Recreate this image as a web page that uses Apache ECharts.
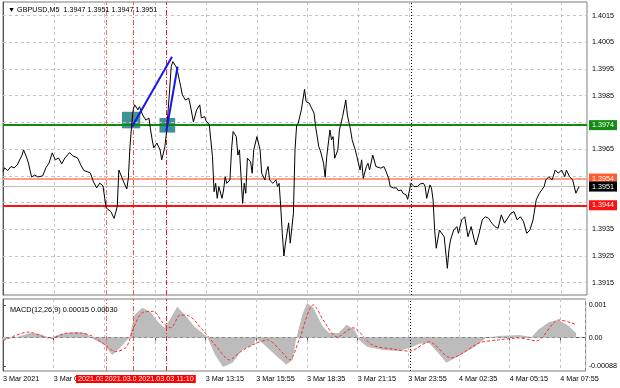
<!DOCTYPE html>
<html><head><meta charset="utf-8">
<script src="https://cdn.jsdelivr.net/npm/echarts@6/dist/echarts.min.js"></script>
<style>html,body{margin:0;padding:0;background:#fff}#c{width:620px;height:388px}</style>
</head><body><div id="c"></div>
<script>
// bar index = 5-minute bars since 3 Mar 2021 02:35
const symbolName = 'GBPUSD,M5';
const ohlc = ['1.3947', '1.3951', '1.3947', '1.3951'];
const macdName = 'MACD(12,26,9)';
const macdNow = ['0.00015', '0.00030'];

const closePoints = [
[0,1.39566],[1,1.39580],[3,1.39570],[5,1.39585],[7,1.39580],[9,1.39591],[10,1.39585],[12,1.39628],[13,1.39647],[15,1.39617],
[16,1.39598],[18,1.39546],[20,1.39553],[22,1.39546],[25,1.39550],[27,1.39580],[29,1.39598],[31,1.39636],[33,1.39610],[35,1.39617],
[37,1.39595],[39,1.39617],[42,1.39637],[44,1.39625],[47,1.39617],[49,1.39591],[51,1.39570],[53,1.39566],[55,1.39561],[57,1.39528],
[59,1.39505],[61,1.39523],[63,1.39512],[65,1.39430],[68,1.39416],[70,1.39391],[72,1.39435],[73,1.39572],[76,1.39528],[78,1.39501],
[79,1.39542],[80,1.39659],[81,1.39734],[82,1.39797],[83,1.39816],[85,1.39797],[86,1.39809],[88,1.39778],[90,1.39759],[92,1.39766],
[93,1.39722],[94,1.39685],[95,1.39655],[97,1.39673],[99,1.39647],[100,1.39610],[102,1.39659],[103,1.39711],[105,1.39872],[106,1.39959],
[107,1.39978],[109,1.39959],[110,1.39940],[112,1.39884],[113,1.39853],[115,1.39834],[117,1.39841],[118,1.39816],[120,1.39752],[122,1.39797],
[124,1.39816],[125,1.39767],[127,1.39772],[128,1.39756],[130,1.39741],[132,1.39622],[133,1.39491],[134,1.39522],[135,1.39466],[136,1.39510],
[138,1.39466],[139,1.39497],[140,1.39547],[141,1.39522],[143,1.39535],[144,1.39647],[145,1.39716],[147,1.39697],[148,1.39628],[149,1.39647],
[151,1.39447],[152,1.39522],[153,1.39485],[154,1.39616],[156,1.39603],[157,1.39560],[158,1.39647],[160,1.39697],[162,1.39647],[163,1.39560],
[165,1.39535],[166,1.39566],[167,1.39585],[168,1.39535],[170,1.39522],[172,1.39535],[173,1.39510],[174,1.39522],[175,1.39435],[176,1.39335],
[177,1.39250],[178,1.39298],[180,1.39374],[181,1.39298],[183,1.39410],[184,1.39647],[185,1.39737],[186,1.39747],[188,1.39797],[190,1.39874],
[191,1.39828],[193,1.39822],[194,1.39809],[196,1.39785],[197,1.39734],[199,1.39659],[200,1.39644],[202,1.39597],[203,1.39545],[204,1.39622],
[206,1.39722],[207,1.39685],[208,1.39697],[209,1.39616],[211,1.39647],[212,1.39722],[214,1.39772],[216,1.39834],[217,1.39778],[219,1.39722],
[220,1.39685],[222,1.39647],[223,1.39622],[225,1.39572],[226,1.39610],[227,1.39541],[229,1.39585],[230,1.39597],[231,1.39572],[233,1.39628],
[235,1.39585],[236,1.39585],[238,1.39579],[240,1.39585],[241,1.39572],[243,1.39541],[244,1.39510],[246,1.39505],[248,1.39505],[249,1.39495],
[251,1.39497],[252,1.39485],[254,1.39479],[255,1.39462],[257,1.39522],[259,1.39510],[261,1.39510],[263,1.39520],[265,1.39522],[266,1.39510],
[267,1.39466],[269,1.39516],[270,1.39505],[271,1.39460],[272,1.39347],[273,1.39279],[275,1.39347],[278,1.39322],[280,1.39204],[281,1.39273],
[282,1.39310],[284,1.39347],[286,1.39360],[287,1.39335],[289,1.39385],[291,1.39397],[293,1.39322],[295,1.39360],[297,1.39310],[298,1.39291],
[300,1.39335],[302,1.39385],[304,1.39397],[306,1.39391],[308,1.39373],[310,1.39360],[312,1.39354],[314,1.39404],[316,1.39373],[317,1.39366],
[320,1.39410],[322,1.39416],[324,1.39385],[326,1.39397],[328,1.39379],[330,1.39335],[332,1.39347],[334,1.39385],[336,1.39460],[338,1.39485],
[341,1.39510],[342,1.39535],[344,1.39547],[346,1.39535],[348,1.39572],[350,1.39560],[352,1.39572],[354,1.39547],[355,1.39572],[357,1.39547],
[359,1.39535],[361,1.39485],[363,1.39510]
];

const macdMain = [
[0,-0.00007],[9,0.00002],[17,0.00014],[23,0.00011],[30,-0.00001],[36,0.00011],[46,0.00017],[52,0.00014],[58,-0.00007],[64,-0.00022],
[69,-0.00053],[74,-0.00031],[80,0.00002],[83,0.00069],[88,0.00091],[93,0.00079],[98,0.00048],[102,0.00030],[106,0.00060],[110,0.00094],
[115,0.00069],[121,0.00033],[129,0.00002],[134,-0.00053],[139,-0.00090],[145,-0.00077],[151,-0.00038],[158,-0.00022],[160,-0.00001],[165,-0.00022],
[172,-0.00053],[179,-0.00083],[183,-0.00068],[185,-0.00007],[189,0.00069],[192,0.00106],[196,0.00091],[202,0.00033],[206,0.00014],[212,0.00014],
[217,0.00039],[222,0.00024],[225,-0.00007],[230,-0.00028],[240,-0.00038],[250,-0.00041],[257,-0.00031],[263,-0.00019],[269,-0.00016],[276,-0.00053],
[280,-0.00077],[289,-0.00053],[298,-0.00028],[305,-0.00001],[313,0.00005],[326,0.00008],[334,0.00002],[338,0.00024],[345,0.00048],[351,0.00054],
[357,0.00036],[362,0.00014]
];

const macdSignal = [
[0,-0.00009],[6,0.00003],[16,0.00017],[30,-0.00002],[41,0.00014],[49,0.00014],[57,0.00003],[66,-0.00028],[71,-0.00043],[78,-0.00028],
[82,0.00024],[88,0.00076],[95,0.00080],[101,0.00045],[106,0.00030],[112,0.00069],[118,0.00065],[126,0.00024],[135,-0.00028],[143,-0.00068],
[150,-0.00043],[160,-0.00017],[167,-0.00007],[175,-0.00038],[181,-0.00068],[187,-0.00007],[196,0.00100],[203,0.00048],[211,0.00002],[221,0.00030],
[233,-0.00022],[246,-0.00035],[257,-0.00041],[269,-0.00013],[283,-0.00062],[301,-0.00016],[313,-0.00007],[326,-0.00001],[337,-0.00010],[351,0.00054],
[359,0.00045],[362,0.00039]
];

const timeTickLabels = ['3 Mar 2021','3 Mar 05:15','3 Mar 07:55','3 Mar 10:35','3 Mar 13:15','3 Mar 15:55',
  '3 Mar 18:35','3 Mar 21:15','3 Mar 23:55','4 Mar 02:35','4 Mar 05:15','4 Mar 07:55'];
const priceGrid = [1.3915,1.3925,1.3935,1.3945,1.3955,1.3965,1.3975,1.3985,1.3995,1.4005,1.4015];
const priceLabels = [1.3915,1.3925,1.3935,1.3965,1.3985,1.3995,1.4005,1.4015];
const macdTickValues = [0.001, 0, -0.00088];
const macdTickText = ['0.001', '0.00', '-0.00088'];

const levelPrices = [1.3974, 1.3954, 1.3944];
const lastPrice = 1.3951;
const vlineBars = [65, 82, 103];
const vlineText = ['2021.03.03 08:00', '2021.03.03 09:25', '2021.03.03 11:10'];
const daySeparatorBar = 257;
const zoneBars = [[75, 86.5], [98.6, 108.5]];
const zonePrices = [[1.39790, 1.39728], [1.39767, 1.39712]];
const trendBars = [[81.3, 106.5], [102.9, 110]];
const trendPrices = [[1.39734, 1.39996], [1.39716, 1.39959]];

const PRICE_MIN = 1.39104, PRICE_MAX = 1.40201;
const MACD_MIN = -0.00102, MACD_MAX = 0.00118;
const BAR_MAX = 368;

const FONT = 'Liberation Sans, Arial, sans-serif';
const FS = 7.2;
const gridLine = {color: '#c4c4c4', type: [3, 3], width: 1};

const chart = echarts.init(document.getElementById('c'));

function timeFmt(v) {
  const k = v / 32;
  return (Number.isInteger(k) && k < timeTickLabels.length) ? timeTickLabels[k] : '';
}
function macdFmt(v) {
  for (let i = 0; i < macdTickValues.length; i++) if (Math.abs(v - macdTickValues[i]) < 1e-9) return macdTickText[i];
  return '';
}

const levelColors = [
  {line: '#118a11', bg: '#148c14'},
  {line: '#ff9c84', bg: '#ff5a2c'},
  {line: '#ff1010', bg: '#ff1010'}
];
const levelData = levelPrices.map((p, i) => ({
  yAxis: p,
  lineStyle: {color: levelColors[i].line, width: 2, type: 'solid'},
  label: {backgroundColor: levelColors[i].bg}
}));
levelData.push({
  yAxis: lastPrice,
  lineStyle: {color: '#c0c0c0', width: 1, type: 'solid'},
  label: {backgroundColor: '#000'}
});

const vColors = ['#ff6a6a', '#ff4a4a', '#ff1a1a'];
const vData0 = vlineBars.map((b, i) => ({xAxis: b, lineStyle: {color: vColors[i]}}));
vData0.push({xAxis: daySeparatorBar, lineStyle: {color: '#000', type: [1, 2]}});
const vData1 = vlineBars.map((b, i) => ({
  xAxis: b, lineStyle: {color: vColors[i]},
  label: {show: true, formatter: vlineText[i]}
}));
vData1.push({xAxis: daySeparatorBar, lineStyle: {color: '#000', type: [1, 2]}, label: {show: false}});

const series = [
  { // horizontal grid lines of price pane
    type: 'line', xAxisIndex: 0, yAxisIndex: 0, data: [], z: 1, silent: true,
    markLine: {silent: true, precision: 8, symbol: ['none', 'none'], label: {show: false}, lineStyle: gridLine,
      data: priceGrid.map(v => ({yAxis: v}))}
  },
  { // zones
    type: 'line', xAxisIndex: 0, yAxisIndex: 0, data: [], z: 2, silent: true,
    markArea: {silent: true, itemStyle: {color: '#3f9393'},
      data: zoneBars.map((b, i) => [{coord: [b[0], zonePrices[i][0]]}, {coord: [b[1], zonePrices[i][1]]}])}
  },
  { // level lines
    type: 'line', xAxisIndex: 0, yAxisIndex: 0, data: [], z: 3, silent: true,
    markLine: {silent: true, precision: 8, symbol: ['none', 'none'],
      label: {show: true, position: 'end', distance: 2, formatter: p => p.value.toFixed(4),
        color: '#fff', fontFamily: FONT, fontSize: FS, padding: [2, 3, 1, 3]},
      data: levelData}
  },
  { // vertical lines in price pane
    type: 'line', xAxisIndex: 0, yAxisIndex: 0, data: [], z: 4, silent: true,
    markLine: {silent: true, precision: 8, symbol: ['none', 'none'], label: {show: false},
      lineStyle: {type: [5, 2, 1, 2], width: 1}, data: vData0}
  },
  { // price
    type: 'line', xAxisIndex: 0, yAxisIndex: 0, data: closePoints, z: 5,
    showSymbol: false, symbol: 'none', lineStyle: {color: '#000', width: 1}
  }
];
trendBars.forEach((b, i) => {
  series.push({
    type: 'line', xAxisIndex: 0, yAxisIndex: 0, z: 6, symbol: 'none',
    data: [[b[0], trendPrices[i][0]], [b[1], trendPrices[i][1]]],
    lineStyle: {color: '#1616f0', width: 2}
  });
});
series.push(
  { // MACD histogram
    type: 'line', xAxisIndex: 1, yAxisIndex: 1, data: macdMain, z: 2, symbol: 'none',
    lineStyle: {width: 0}, areaStyle: {color: '#bcbcbc', opacity: 1, origin: 0}
  },
  { // zero line & verticals in MACD pane
    type: 'line', xAxisIndex: 1, yAxisIndex: 1, data: [], z: 3, silent: true,
    markLine: {silent: true, precision: 8, symbol: ['none', 'none'],
      label: {show: false, position: 'start', distance: 4, backgroundColor: '#ff0000', color: '#fff',
        fontFamily: FONT, fontSize: FS, padding: [1, 2, 0, 2]},
      lineStyle: {type: [5, 2, 1, 2], width: 1},
      data: [{yAxis: 0, lineStyle: gridLine, label: {show: false}}].concat(vData1)}
  },
  { // signal
    type: 'line', xAxisIndex: 1, yAxisIndex: 1, data: macdSignal, z: 4, symbol: 'none', smooth: 0.3,
    lineStyle: {color: '#ff2a2a', width: 1, type: [3, 2]}
  }
);

const xBase = {type: 'value', min: 0, max: BAR_MAX, interval: 32,
  splitLine: {show: true, lineStyle: gridLine}};

chart.setOption({
  animation: false,
  backgroundColor: '#fff',
  title: [
    {text: '▼ ' + symbolName + '  ' + ohlc.join(' '), left: 3, top: 2,
      textStyle: {fontFamily: FONT, fontSize: 7.2, fontWeight: 'normal', color: '#000'}},
    {text: macdName + ' ' + macdNow.join(' '), left: 5, top: 301,
      textStyle: {fontFamily: FONT, fontSize: 7.3, fontWeight: 'normal', color: '#000'}}
  ],
  grid: [
    {left: 3, right: 33, top: 2, height: 293, show: true, borderColor: '#7a7a7a', borderWidth: 1},
    {left: 3, right: 33, top: 299, height: 72, show: true, borderColor: '#7a7a7a', borderWidth: 1}
  ],
  xAxis: [
    Object.assign({gridIndex: 0, axisLine: {show: false}, axisTick: {show: false}, axisLabel: {show: false}}, xBase),
    Object.assign({gridIndex: 1,
      axisLine: {show: true, lineStyle: {color: '#555'}},
      axisTick: {show: true, length: 3, lineStyle: {color: '#555'}},
      axisLabel: {show: true, formatter: timeFmt, align: 'left', margin: 5, showMaxLabel: false,
        fontFamily: FONT, fontSize: FS, color: '#000'}}, xBase)
  ],
  yAxis: [
    {gridIndex: 0, type: 'value', position: 'right', min: PRICE_MIN, max: PRICE_MAX,
      splitLine: {show: false},
      axisLine: {show: true, lineStyle: {color: '#555'}},
      axisTick: {show: true, length: 3, customValues: priceLabels, lineStyle: {color: '#555'}},
      axisLabel: {show: true, customValues: priceLabels, formatter: v => v.toFixed(4), margin: 5,
        fontFamily: FONT, fontSize: FS, color: '#000'}},
    {gridIndex: 1, type: 'value', position: 'right', min: MACD_MIN, max: MACD_MAX,
      splitLine: {show: false},
      axisLine: {show: true, lineStyle: {color: '#555'}},
      axisTick: {show: true, length: 3, customValues: macdTickValues, lineStyle: {color: '#555'}},
      axisLabel: {show: true, customValues: macdTickValues, formatter: macdFmt, margin: 3,
        fontFamily: FONT, fontSize: FS, color: '#000'}}
  ],
  series: series
});
</script>
</body></html>
